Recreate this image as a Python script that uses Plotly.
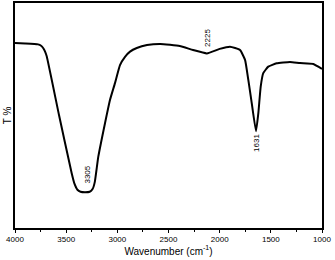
import plotly.graph_objects as go

wavenumber = [4000, 3900, 3775, 3745, 3725, 3707, 3690, 3570, 3446, 3420, 3390, 3360,
              3316, 3270, 3242, 3220, 3186, 3120, 3072, 3023, 2974, 2925, 2876, 2810,
              2710, 2580, 2390, 2260, 2125, 2000, 1899, 1801, 1752, 1720, 1687, 1645,
              1622, 1599, 1574, 1525, 1443, 1313, 1215, 1085, 1000]
transmittance = [82.2, 82.0, 81.6, 81.0, 80.0, 78.5, 76.3, 50.2, 24.3, 19.8, 17.0, 16.1,
                 15.9, 16.1, 17.3, 20.5, 31.7, 46.7, 56.9, 64.4, 72.4, 76.1, 78.4, 80.0,
                 81.3, 81.8, 80.9, 79.1, 77.6, 79.6, 80.6, 79.1, 74.7, 65.8, 55.6, 43.0,
                 51.1, 62.8, 68.8, 71.7, 73.2, 73.8, 73.3, 72.9, 70.7]

peak_labels = ["3305", "2225", "1631"]
peak_x = [3290, 2125, 1635]
peak_y = [23.6, 84.4, 37.8]

fig = go.Figure()
fig.add_trace(go.Scatter(x=wavenumber, y=transmittance, mode="lines",
                         line=dict(color="black", width=2, shape="spline", smoothing=0.4),
                         showlegend=False, hoverinfo="skip"))

for lab, xv, yv in zip(peak_labels, peak_x, peak_y):
    fig.add_annotation(x=xv, y=yv, text=lab, showarrow=False, textangle=-90,
                       font=dict(family="Liberation Sans, Arial", size=8, color="black"))

fig.update_layout(
    width=335, height=260,
    margin=dict(l=15, r=13, t=3, b=32),
    plot_bgcolor="white", paper_bgcolor="white",
    font=dict(family="Liberation Sans, Arial", color="black"),
    xaxis=dict(range=[4000, 1000], tickvals=[4000, 3500, 3000, 2500, 2000, 1500, 1000],
               ticks="outside", ticklen=3, tickwidth=1, tickcolor="black",
               minor=dict(tickvals=[3750, 3250, 2750, 2250, 1750, 1250], ticks="outside",
                          ticklen=2, tickcolor="black"),
               showline=True, linecolor="black", linewidth=1.5, mirror=True,
               showgrid=False, zeroline=False, tickfont=dict(size=8), automargin=False,
               title=dict(text="Wavenumber (cm<sup>-1</sup>)", font=dict(size=10), standoff=2)),
    yaxis=dict(range=[0, 100], showticklabels=False, ticks="", automargin=False,
               showline=True, linecolor="black", linewidth=1.5, mirror=True,
               showgrid=False, zeroline=False,
               title=dict(text="T %", font=dict(size=10), standoff=0)),
)

fig.write_html("out.html", config={"displayModeBar": False},
               post_script="document.body.style.margin='0';document.body.style.overflow='hidden';")
